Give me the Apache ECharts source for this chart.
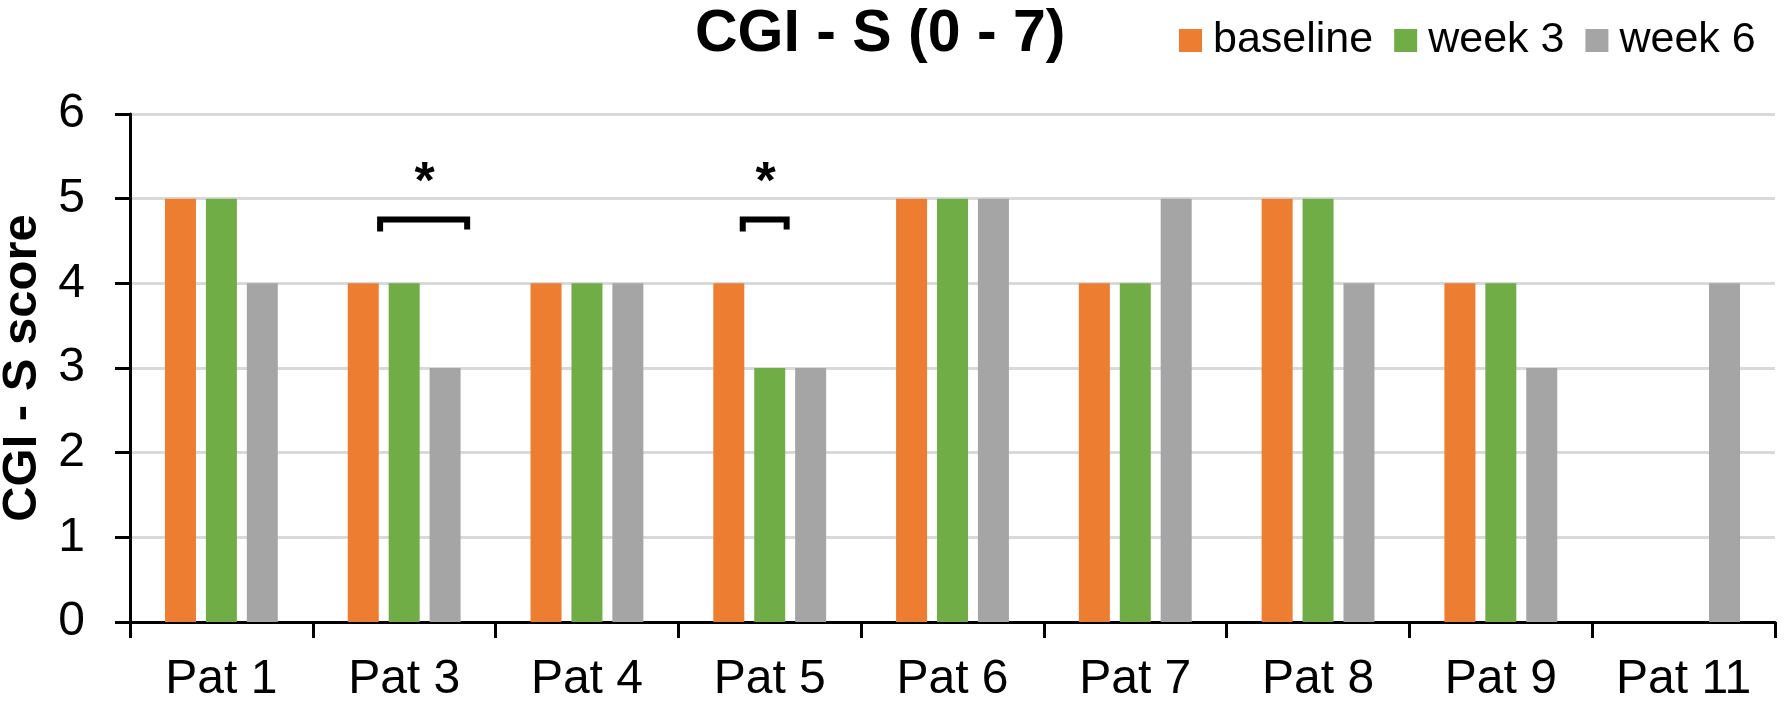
<!DOCTYPE html>
<html>
<head>
<meta charset="utf-8">
<script src="https://cdn.jsdelivr.net/npm/echarts@6/dist/echarts.min.js"></script>
<style>
  html, body { margin: 0; padding: 0; background: #fff; }
  #chart { width: 1784px; height: 704px; }
</style>
</head>
<body>
<div id="chart"></div>
<script>
// data
var patients = ['Pat 1', 'Pat 3', 'Pat 4', 'Pat 5', 'Pat 6', 'Pat 7', 'Pat 8', 'Pat 9', 'Pat 11'];
var baseline = [5, 4, 4, 4, 5, 4, 5, 4, null];
var week3 = [5, 4, 4, 3, 5, 4, 5, 4, null];
var week6 = [4, 3, 4, 3, 5, 5, 4, 3, 4];
var yTicks = [0, 1, 2, 3, 4, 5, 6];

// significance marks: category, level of the bracket
var sigCats = ['Pat 3', 'Pat 5'];
var sigLevel = [4.79, 4.79];
var sigLabel = ['*', '*'];

// bracket extents relative to category centre (fraction of the band)
var bracketSpan = [[-0.148, 0.372], [-0.164, 0.12]];

var font = 'Liberation Sans, Arial, sans-serif';
var colors = ['#ED7D31', '#70AD47', '#A5A5A5'];

var chart = echarts.init(document.getElementById('chart'));

var sigData = sigCats.map(function(c, i) {
	return [patients.indexOf(c), sigLevel[i], i];
});

var option = {
	animation: false,
	title: {
		text: 'CGI - S (0 - 7)',
		left: 690,
		top: 0,
		textStyle: {
			fontFamily: font,
			fontSize: 59,
			fontWeight: 'bold',
			color: '#000'
		}
	},
	legend: {
		data: ['baseline', 'week 3', 'week 6'],
		left: 1174,
		top: 14,
		icon: 'rect',
		itemWidth: 23,
		itemHeight: 23,
		itemGap: 21,
		textStyle: {
			fontFamily: font,
			fontSize: 43,
			color: '#000',
			padding: [0, 0, 0, 6]
		}
	},
	grid: {
		left: 130,
		right: 9,
		top: 114,
		bottom: 82,
		outerBoundsMode: 'none',
		containLabel: false
	},
	xAxis: {
		type: 'category',
		data: patients,
		axisLine: { lineStyle: { color: '#000', width: 3 } },
		axisTick: { show: true, length: 16, lineStyle: { color: '#000', width: 3 } },
		axisLabel: {
			fontFamily: font,
			fontSize: 48,
			color: '#000',
			margin: 34
		}
	},
	yAxis: {
		type: 'value',
		min: yTicks[0],
		max: yTicks[yTicks.length - 1],
		interval: 1,
		name: 'CGI - S score',
		nameLocation: 'middle',
		nameGap: 82,
		nameTextStyle: {
			fontFamily: font,
			fontSize: 49,
			fontWeight: 'bold',
			color: '#000'
		},
		axisLine: { show: true, lineStyle: { color: '#000', width: 3 } },
		axisTick: { show: true, length: 15, lineStyle: { color: '#000', width: 3 } },
		axisLabel: {
			fontFamily: font,
			fontSize: 48,
			color: '#000',
			margin: 45
		},
		splitLine: { lineStyle: { color: '#D9D9D9', width: 3 } }
	},
	series: [
		{
			name: 'baseline',
			type: 'bar',
			data: baseline,
			barWidth: 31,
			barGap: '32%',
			itemStyle: { color: colors[0] }
		},
		{
			name: 'week 3',
			type: 'bar',
			data: week3,
			barWidth: 31,
			barGap: '32%',
			itemStyle: { color: colors[1] }
		},
		{
			name: 'week 6',
			type: 'bar',
			data: week6,
			barWidth: 31,
			barGap: '32%',
			itemStyle: { color: colors[2] }
		},
		{
			// brackets with asterisks
			type: 'custom',
			data: sigData,
			z: 10,
			renderItem: function(params, api) {
				var p = api.coord([api.value(0), api.value(1)]);
				var band = api.size([1, 0])[0];
				var span = bracketSpan[api.value(2)];
				var x1 = p[0] + span[0] * band;
				var x2 = p[0] + span[1] * band;
				var top = p[1] + 3;
				return {
					type: 'group',
					children: [
						{
							type: 'polyline',
							shape: { points: [[x1 + 3, top + 12], [x1 + 3, top], [x2 - 5, top], [x2 - 5, top + 10]] },
							style: { stroke: '#000', lineWidth: 6, fill: null, lineJoin: 'miter' }
						},
						{
							type: 'text',
							style: {
								text: sigLabel[api.value(2)],
								x: (x1 + x2) / 2,
								y: top - 36,
								align: 'center',
								verticalAlign: 'middle',
								font: 'bold 52px ' + font,
								fill: '#000'
							}
						}
					]
				};
			}
		}
	]
};

chart.setOption(option);
</script>
</body>
</html>
